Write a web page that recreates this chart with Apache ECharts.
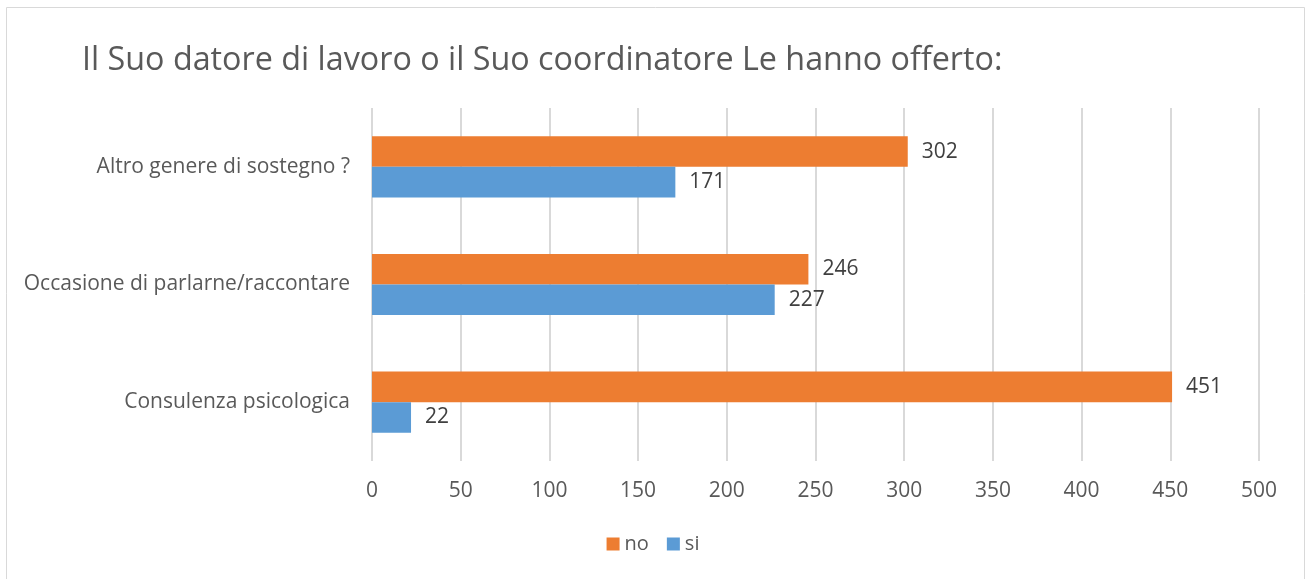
<!DOCTYPE html>
<html>
<head>
<meta charset="utf-8">
<script src="https://cdn.jsdelivr.net/npm/echarts@6/dist/echarts.min.js"></script>
<style>
  html, body { margin: 0; padding: 0; background: #fff; }
  #chart { width: 1306px; height: 579px; }
</style>
</head>
<body>
<div id="chart"></div>
<script>
// dati (dal basso verso l'alto, come vuole l'asse categoria)
var categories = ['Consulenza psicologica', 'Occasione di parlarne/raccontare', 'Altro genere di sostegno ?'];
var noValues = [451, 246, 302];
var siValues = [22, 227, 171];
var xTicks = [0, 50, 100, 150, 200, 250, 300, 350, 400, 450, 500];

var font = '"Open Sans", "Noto Sans", sans-serif';
var myChart = echarts.init(document.getElementById('chart'));

myChart.setOption({
  animation: false,
  title: {
    text: 'Il Suo datore di lavoro o il Suo coordinatore Le hanno offerto:',
    left: 77,
    top: 40,
    textStyle: { fontFamily: font, fontSize: 32.3, fontWeight: 'normal', color: '#595959' }
  },
  graphic: [{
    type: 'rect',
    shape: { x: 6.5, y: 7.5, width: 1298, height: 600 },
    style: { fill: 'none', stroke: '#d9d9d9', lineWidth: 1 }
  }],
  legend: {
    data: ['no', 'si'],
    bottom: 20,
    left: 'center',
    itemWidth: 13,
    itemHeight: 13,
    itemGap: 18,
    icon: 'rect',
    textStyle: { fontFamily: font, fontSize: 20, color: '#595959' }
  },
  grid: { left: 372, right: 47, top: 108, bottom: 118 },
  xAxis: {
    type: 'value',
    min: xTicks[0],
    max: xTicks[xTicks.length - 1],
    interval: 50,
    axisLine: { show: false },
    axisTick: { show: false },
    axisLabel: { fontFamily: font, fontSize: 21, color: '#595959', margin: 20 },
    splitLine: { lineStyle: { color: '#d9d9d9', width: 2 } }
  },
  yAxis: {
    type: 'category',
    data: categories,
    axisLine: { show: false },
    axisTick: { show: false },
    axisLabel: { fontFamily: font, fontSize: 21, color: '#595959', margin: 22 }
  },
  series: [
    {
      name: 'no',
      type: 'bar',
      data: noValues,
      barGap: '0%',
      barCategoryGap: '48%',
      itemStyle: { color: '#ed7d31' },
      label: { show: true, position: 'right', distance: 14, fontFamily: font, fontSize: 21, color: '#404040' }
    },
    {
      name: 'si',
      type: 'bar',
      data: siValues,
      barGap: '0%',
      barCategoryGap: '48%',
      itemStyle: { color: '#5b9bd5' },
      label: { show: true, position: 'right', distance: 14, fontFamily: font, fontSize: 21, color: '#404040' }
    }
  ]
});
</script>
</body>
</html>
